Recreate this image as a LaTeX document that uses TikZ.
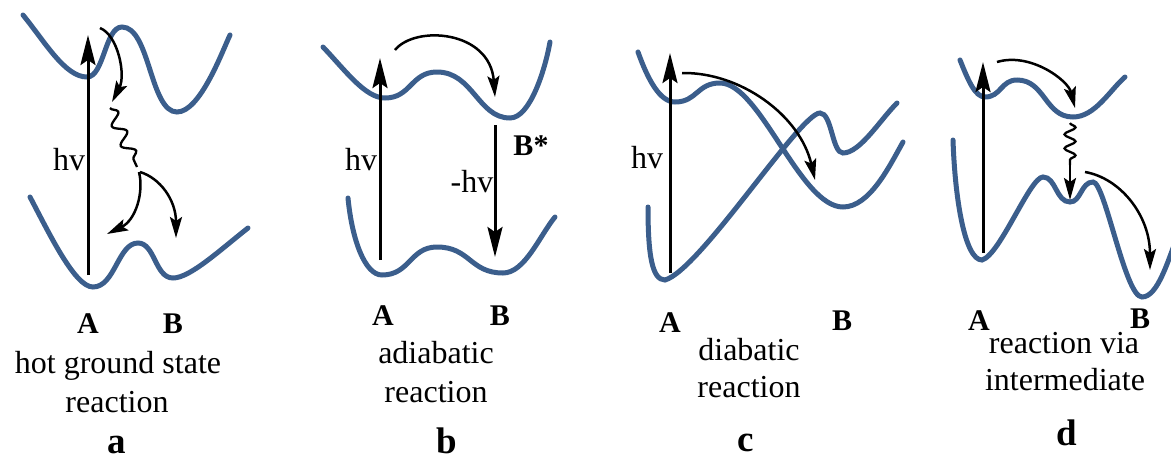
\documentclass[tikz,border=0pt]{standalone}
\usepackage{fontspec}
\setmainfont{Liberation Serif}
\usetikzlibrary{arrows.meta,decorations.pathmorphing}
\definecolor{pescol}{RGB}{59,94,140}
\begin{document}
\begin{tikzpicture}[x=1pt,y=-1pt,
  pes/.style={draw=pescol, line width=5pt, line cap=round},
  vert/.style={line width=3pt, -{Stealth[length=30pt,width=15pt,inset=5pt]}},
  bent/.style={line width=2.5pt, -{Stealth[length=21pt,width=12pt,inset=4pt]}},
  wavy/.style={line width=2.3pt, decorate, decoration={snake, segment length=21.5pt, amplitude=6pt}},
  lab/.style={font=\fontsize{32}{39}\selectfont, anchor=base, inner sep=0pt},
  ablab/.style={font=\bfseries\fontsize{30}{36}\selectfont, anchor=base, inner sep=0pt},
  panel/.style={font=\bfseries\fontsize{37}{40}\selectfont, anchor=base, inner sep=0pt}]
\useasboundingbox (0,0) rectangle (1171,459);

% ---------------- panel a ----------------
\draw[pes] (23,15) .. controls (45,42) and (65,77) .. (87,77)
  .. controls (104,77) and (105,27) .. (122,27)
  .. controls (150,27) and (150,112) .. (177,112)
  .. controls (200,112) and (222,52) .. (230,35);
\draw[pes] (30,197) .. controls (50,235) and (75,287) .. (93,287)
  .. controls (115,287) and (118,243) .. (138,243)
  .. controls (155,243) and (155,278) .. (173,278)
  .. controls (190,278) and (220,250) .. (248,228);
\coordinate (ahs) at (88,275); \coordinate (ahe) at (88,35);
\draw[vert] (ahs) -- (ahe);
\node[lab] (ahv) at (69,170) {hv};
\coordinate (a1s) at (100,28); \coordinate (a1e) at (112,102);
\draw[bent] (a1s) .. controls (118,35) and (126,75) .. (a1e);
\coordinate (aws) at (110,108); \coordinate (awe) at (137,167);
\draw[wavy] (aws) -- (awe);
\coordinate (a2s) at (139,172); \coordinate (a2e) at (107,234);
\draw[bent] (a2s) .. controls (144,192) and (136,220) .. (a2e);
\coordinate (a3s) at (140,172); \coordinate (a3e) at (176,238);
\draw[bent] (a3s) .. controls (160,178) and (176,200) .. (a3e);
\node[ablab] (aA) at (88,333) {A};
\node[ablab] (aB) at (173,333) {B};
\node[lab] (at1) at (118,373) {hot ground state};
\node[lab] (at2) at (117,412) {reaction};
\node[panel] (ap) at (117,453) {a};

% ---------------- panel b ----------------
\draw[pes] (323,47) .. controls (345,70) and (365,98) .. (385,98)
  .. controls (411,98) and (411,72) .. (437,72)
  .. controls (473,72) and (478,118) .. (510,118)
  .. controls (530,118) and (545,70) .. (550,42);
\draw[pes] (348,198) .. controls (352,240) and (365,275) .. (382,275)
  .. controls (410,275) and (410,247) .. (437,247)
  .. controls (470,247) and (470,273) .. (503,273)
  .. controls (525,273) and (540,235) .. (555,217);
\coordinate (bhs) at (380,260); \coordinate (bhe) at (380,58);
\draw[vert] (bhs) -- (bhe);
\node[lab] (bhv) at (361,170) {hv};
\coordinate (bes) at (495,125); \coordinate (bee) at (495,257);
\draw[vert] (bes) -- (bee);
\node[lab] (bmhv) at (472,192) {-hv};
\node[ablab] (bBs) at (531,155) {B*};
\coordinate (b1s) at (395,50); \coordinate (b1e) at (495,97);
\draw[bent] (b1s) .. controls (415,25) and (490,30) .. (b1e);
\node[ablab] (bA) at (383,325) {A};
\node[ablab] (bB) at (500,325) {B};
\node[lab] (bt1) at (436,363) {adiabatic};
\node[lab] (bt2) at (436,402) {reaction};
\node[panel] (bp) at (447,453) {b};

% ---------------- panel c ----------------
\draw[pes] (638,52) .. controls (648,80) and (660,102) .. (675,102)
  .. controls (697,102) and (697,83) .. (720,83)
  .. controls (760,83) and (800,207) .. (843,207)
  .. controls (870,207) and (890,165) .. (903,142);
\draw[pes] (648,207) .. controls (648,255) and (652,280) .. (665,280)
  .. controls (700,270) and (800,113) .. (820,113)
  .. controls (832,113) and (832,153) .. (843,153)
  .. controls (860,153) and (880,120) .. (897,103);
\coordinate (chs) at (670,273); \coordinate (che) at (670,53);
\draw[vert] (chs) -- (che);
\node[lab] (chv) at (647,168) {hv};
\coordinate (c1s) at (682,73); \coordinate (c1e) at (815,180);
\draw[bent] (c1s) .. controls (740,72) and (800,115) .. (c1e);
\node[ablab] (cA) at (670,332) {A};
\node[ablab] (cB) at (842,330) {B};
\node[lab] (ct1) at (749,360) {diabatic};
\node[lab] (ct2) at (749,397) {reaction};
\node[panel] (cp) at (746,451) {c};

% ---------------- panel d ----------------
\draw[pes] (960,60) .. controls (968,80) and (975,97) .. (985,97)
  .. controls (1001,97) and (1001,80) .. (1017,80)
  .. controls (1045,80) and (1045,117) .. (1073,117)
  .. controls (1095,117) and (1110,90) .. (1125,77);
\draw[pes] (953,140) .. controls (955,200) and (965,260) .. (982,260)
  .. controls (1000,255) and (1030,177) .. (1043,177)
  .. controls (1056,177) and (1056,202) .. (1070,202)
  .. controls (1081,202) and (1081,182) .. (1093,182)
  .. controls (1105,182) and (1125,297) .. (1142,297)
  .. controls (1158,297) and (1168,260) .. (1178,235);
\coordinate (dhs) at (983,253); \coordinate (dhe) at (983,62);
\draw[vert] (dhs) -- (dhe);
\coordinate (d1s) at (997,62); \coordinate (d1e) at (1075,108);
\draw[bent] (d1s) .. controls (1030,52) and (1068,80) .. (d1e);
\coordinate (dws) at (1070,123); \coordinate (dwe) at (1070,165);
\coordinate (dae) at (1070,200);
\draw[wavy, decoration={snake, segment length=14pt, amplitude=5.5pt}] (dws) -- (dwe);
\draw[line width=2.5pt, -{Stealth[length=22pt,width=12pt,inset=4pt]}] (dwe) -- (dae);
\coordinate (d2s) at (1085,172); \coordinate (d2e) at (1150,270);
\draw[bent] (d2s) .. controls (1120,178) and (1150,215) .. (d2e);
\node[ablab] (dA) at (979,330) {A};
\node[ablab] (dB) at (1140,328) {B};
\node[lab] (dt1) at (1064,353) {reaction via};
\node[lab] (dt2) at (1065,390) {intermediate};
\node[panel] (dp) at (1067,445) {d};
\end{tikzpicture}
\end{document}
